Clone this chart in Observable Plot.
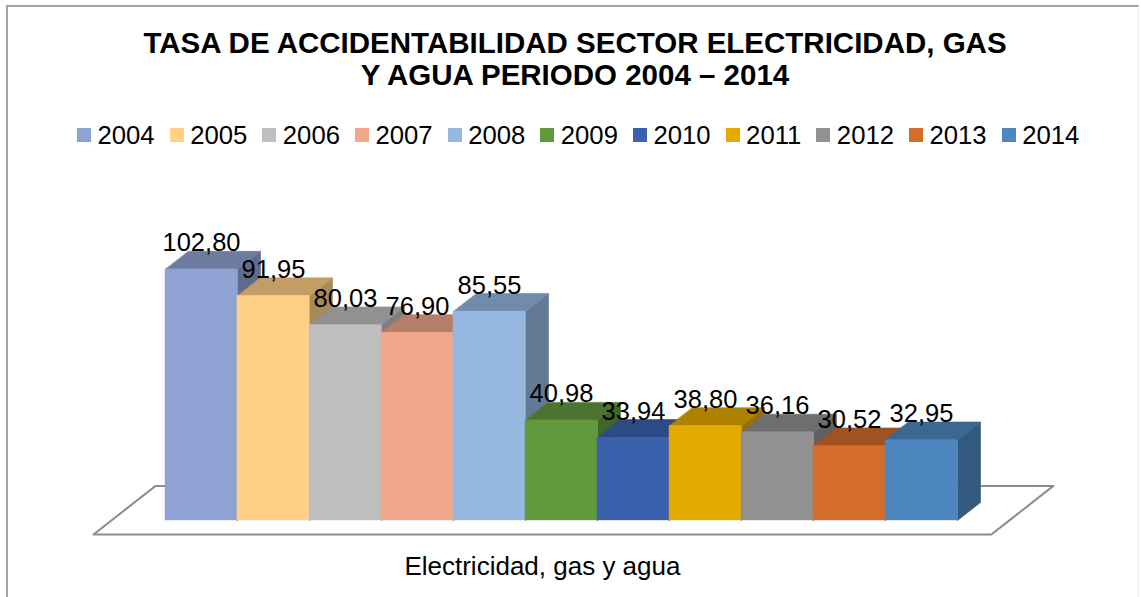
<!DOCTYPE html>
<html>
<head>
<meta charset="utf-8">
<script src="https://cdn.jsdelivr.net/npm/d3@7"></script>
<script src="https://cdn.jsdelivr.net/npm/@observablehq/plot@0.6"></script>
<style>
  html, body { margin: 0; padding: 0; background: #fff; }
  body { width: 1141px; height: 597px; position: relative; overflow: hidden; font-family: "Liberation Sans", Arial, sans-serif; }
  #frame { position: absolute; left: 6px; top: 5px; width: 1133px; height: 640px; border-top: 2px solid #a3a3a3; border-left: 2px solid #a3a3a3; border-right: 1px solid #eeeeee; box-sizing: border-box; }
  #title { position: absolute; left: 0; top: 27px; width: 1150px; text-align: center; font-weight: bold; font-size: 29.5px; line-height: 32px; color: #000; }
  #legend { position: absolute; left: 77px; top: 120px; display: flex; align-items: center; height: 30px; }
  .item { display: flex; align-items: center; margin-right: 15px; }
  .sw { width: 14px; height: 14px; margin-right: 6.5px; }
  .lab { font-size: 25.7px; line-height: 30px; color: #000; }
  #chart { position: absolute; left: 0; top: 150px; }
</style>
</head>
<body>
<div id="frame"></div>
<div id="title"></div>
<div id="legend"></div>
<div id="chart"></div>
<script>
// ---- data ----
const titleLines = ["TASA DE ACCIDENTABILIDAD SECTOR ELECTRICIDAD, GAS", "Y AGUA PERIODO 2004 – 2014"];
const years = ["2004", "2005", "2006", "2007", "2008", "2009", "2010", "2011", "2012", "2013", "2014"];
const values = [102.80, 91.95, 80.03, 76.90, 85.55, 40.98, 33.94, 38.80, 36.16, 30.52, 32.95];
const colors = ["#8FA2D4", "#FFD085", "#BFBFBF", "#F1A78A", "#95B7E0", "#62993E", "#3A62AC", "#E3AB00", "#919191", "#D46C2B", "#4E87BF"];
const category = "Electricidad, gas y agua";

// ---- layout ----
const W = 1141, H = 447;
const xRange = [165, 957];      // front faces span
const yBase = 370, pxPerUnit = 2.443;
const depthPx = [23, 18];        // 3D depth offset (right, up)
const barPx = (xRange[1] - xRange[0]) / years.length;
const dX = depthPx[0] / barPx, dY = depthPx[1] / pxPerUnit;
const floorPadL = 1.0, floorPadR = 0.47, floorDrop = 14 / pxPerUnit, floorDepth = 2.7;

document.getElementById("title").innerHTML = titleLines.join("<br>");
const legend = document.getElementById("legend");
years.forEach((yr, i) => {
  const it = document.createElement("div"); it.className = "item";
  const sw = document.createElement("div"); sw.className = "sw"; sw.style.background = colors[i];
  const lb = document.createElement("span"); lb.className = "lab"; lb.textContent = yr;
  it.appendChild(sw); it.appendChild(lb); legend.appendChild(it);
});

const shade = (c, k) => { const r = d3.rgb(c); return d3.rgb(r.r * k, r.g * k, r.b * k).formatHex(); };

const bars = years.map((yr, i) => ({year: yr, i, v: values[i], color: colors[i],
  label: values[i].toFixed(2).replace(".", ",")}));

const sides = [], tops = [];
bars.forEach(b => {
  const x0 = b.i, x1 = b.i + 1, v = b.v;
  const sc = shade(b.color, 0.66), tc = shade(b.color, 0.76);
  [[x1, 0], [x1 + dX, dY], [x1 + dX, v + dY], [x1, v]].forEach(([x, y]) => sides.push({id: b.year, x, y, c: sc}));
  [[x0, v], [x1, v], [x1 + dX, v + dY], [x0 + dX, v + dY]].forEach(([x, y]) => tops.push({id: b.year, x, y, c: tc}));
});

const n = years.length;
const fdx = dX * floorDepth, fdy = dY * floorDepth;
const floor = [
  {x: -floorPadL, y: -floorDrop},
  {x: -floorPadL + fdx, y: -floorDrop + fdy},
  {x: n + floorPadR + fdx, y: -floorDrop + fdy},
  {x: n + floorPadR, y: -floorDrop}
];

const chart = Plot.plot({
  width: W, height: H,
  style: {fontFamily: "'Liberation Sans', Arial, sans-serif", background: "transparent", overflow: "visible"},
  x: {domain: [0, n], range: xRange, axis: null},
  y: {domain: [0, 100], range: [yBase, yBase - 100 * pxPerUnit], axis: null},
  color: {type: "identity"},
  marks: [
    Plot.line(floor, {x: "x", y: "y", curve: "linear-closed", stroke: "#8c8c8c", strokeWidth: 2, fill: "white"}),
    Plot.line(sides, {x: "x", y: "y", z: "id", fill: "c", stroke: "c", strokeWidth: 0.6, curve: "linear-closed"}),
    Plot.line(tops, {x: "x", y: "y", z: "id", fill: "c", stroke: "c", strokeWidth: 0.6, curve: "linear-closed"}),
    Plot.rectY(bars, {x1: "i", x2: d => d.i + 1, y1: 0, y2: "v", fill: "color", stroke: "color", strokeWidth: 0.4}),
    Plot.text(bars, {x: d => d.i + 0.5, y: "v", text: "label", dy: -18, lineAnchor: "bottom", fontSize: 25.5, fill: "#000"}),
    Plot.text([category], {x: (-floorPadL + n + floorPadR) / 2, y: -floorDrop, text: d => d, dy: 40, lineAnchor: "bottom", fontSize: 26, fill: "#000"})
  ]
});
document.getElementById("chart").appendChild(chart);
</script>
</body>
</html>
